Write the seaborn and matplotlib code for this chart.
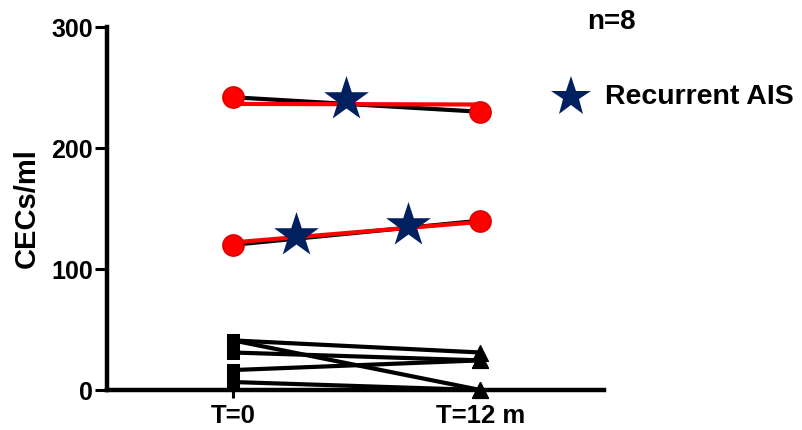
import matplotlib
matplotlib.use("Agg")
import matplotlib.pyplot as plt
import seaborn as sns
import pandas as pd
import numpy as np

sns.set_theme(style="white")
plt.rcParams['font.family'] = ['Liberation Sans', 'DejaVu Sans']
plt.rcParams['font.weight'] = 'bold'
plt.rcParams['text.color'] = 'black'
plt.rcParams['axes.labelcolor'] = 'black'
plt.rcParams['xtick.color'] = 'black'
plt.rcParams['ytick.color'] = 'black'

# Data
time_labels = ["T=0", "T=12 m"]
patients = ["P1", "P2", "P3", "P4", "P5", "P6", "P7"]
cec_t0 = [41, 41, 31, 16.5, 6.6, 242, 120]
cec_t12 = [31, 0, 24.5, 24.5, 0, 230, 140]
recurrent = [False, False, False, False, False, True, True]
# red overlay lines for recurrent patients
red_t0 = [236.5, 122]
red_t12 = [236.0, 139]
# recurrent AIS events (position between visits as fraction of follow-up, value)
star_x = [0.456, 0.255, 0.707]
star_y = [240.7, 128, 136]

rows = []
for p, a, b, r in zip(patients, cec_t0, cec_t12, recurrent):
    rows.append(dict(patient=p, t=0, cec=a, rec=r))
    rows.append(dict(patient=p, t=1, cec=b, rec=r))
df = pd.DataFrame(rows)
red_df = pd.DataFrame(dict(
    grp=["a", "a", "b", "b"], t=[0, 1, 0, 1],
    cec=[red_t0[0], red_t12[0], red_t0[1], red_t12[1]]))
star_df = pd.DataFrame(dict(x=star_x, y=star_y))

fig = plt.figure(figsize=(8.03, 4.30), dpi=100)
ax = fig.add_axes([0.1333, 0.093, 0.619, 0.844])

sns.lineplot(data=df, x="t", y="cec", units="patient", estimator=None,
             color="black", lw=3, ax=ax, legend=False, zorder=2)
sns.lineplot(data=red_df, x="t", y="cec", units="grp", estimator=None,
             color="#ff0000", lw=3, ax=ax, legend=False, zorder=3)

nr = df[~df.rec]
sns.scatterplot(data=nr[nr.t == 0], x="t", y="cec", marker="s", s=85,
                color="black", edgecolor="black", ax=ax, zorder=4, clip_on=False, legend=False)
sns.scatterplot(data=nr[nr.t == 1], x="t", y="cec", marker="^", s=130,
                color="black", edgecolor="black", ax=ax, zorder=4, clip_on=False, legend=False)
rc = df[df.rec]
sns.scatterplot(data=rc, x="t", y="cec", marker="o", s=230,
                color="#ff0000", edgecolor="#e00000", ax=ax, zorder=5, legend=False)
sns.scatterplot(data=star_df, x="x", y="y", marker="*", s=1150,
                color="#002060", edgecolor="#002060", linewidth=0, ax=ax, zorder=6, legend=False)

ax.set_xlim(-0.51, 1.5)
ax.set_ylim(0, 300)
ax.set_xticks([0, 1])
ax.set_xticklabels(time_labels, fontsize=18.5, fontweight="bold")
ax.set_yticks([0, 100, 200, 300])
ax.set_yticklabels(["0", "100", "200", "300"], fontsize=18, fontweight="bold")
ax.set_xlabel("")
ax.set_ylabel("CECs/ml", fontsize=21, fontweight="bold", labelpad=8)

for s in ["top", "right"]:
    ax.spines[s].set_visible(False)
for s in ["left", "bottom"]:
    ax.spines[s].set_linewidth(3.2)
    ax.spines[s].set_color("black")
ax.tick_params(axis="y", direction="out", length=9, width=2.2, pad=1, left=True, colors="black")
ax.tick_params(axis="x", direction="out", length=6, width=2.2, pad=4, bottom=True, colors="black")

fig.text(0.762, 0.949, "n=8", fontsize=20, fontweight="bold", ha="center", va="center")
fig.text(0.753, 0.774, "Recurrent AIS", fontsize=20.5, fontweight="bold", ha="left", va="center")
fig.lines.append(plt.Line2D([0.711], [0.774], marker="*", markersize=30, color="#002060",
                            markeredgewidth=0, transform=fig.transFigure))

fig.savefig("out.png", dpi=100)
